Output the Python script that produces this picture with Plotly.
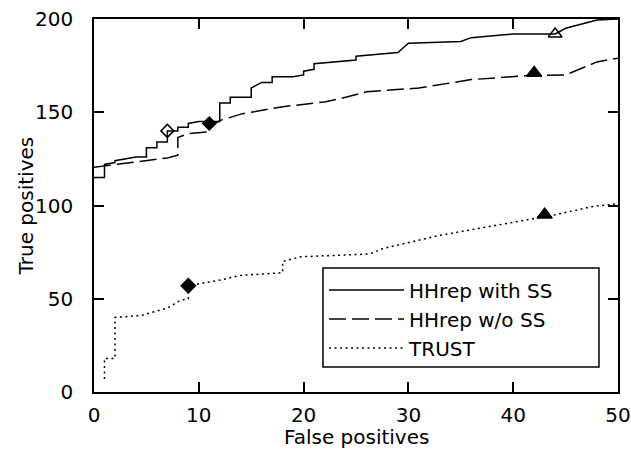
import plotly.graph_objects as go

# HHrep with SS (solid)
ss_x = [0, 1, 1, 2, 2, 4, 5, 5, 6, 6, 7, 7, 8, 8, 9, 9, 10, 12, 12, 13, 13, 15, 15, 16, 17, 17, 19, 20, 20, 21, 21, 25, 25, 29, 30, 35, 36, 40, 44, 45, 48, 50]
ss_y = [115, 115, 122, 123, 124, 126, 126, 131, 131, 134, 134, 140, 140, 142, 142, 144, 145, 145, 155, 155, 158, 158, 163, 166, 166, 169, 169, 170, 172, 173, 176, 178, 180, 182, 187, 188, 190, 192, 192, 195, 199.5, 200]

# HHrep w/o SS (dashed)
noss_x = [0, 2, 5, 7, 8, 8, 9, 11, 11, 12, 14, 18, 22, 24, 26, 31, 36, 41, 45, 48, 50]
noss_y = [120.5, 122, 124, 125.5, 127, 136.5, 138.5, 139.5, 142, 145.5, 149, 153, 155.5, 158, 161, 163, 167.5, 169.5, 170, 177, 179]

# TRUST (dotted)
trust_x = [1, 1, 2, 2, 4.5, 7, 8.2, 9, 9, 12, 14, 18, 18, 19.7, 26.3, 27.6, 33, 37.5, 42.2, 44, 47.6, 50]
trust_y = [7, 18, 18, 40, 41, 45, 49, 50, 57, 60, 62.5, 64, 70, 72.5, 74, 77, 84, 88.5, 93, 95, 99.5, 101]

# highlighted points
mk_x = [7, 11, 44, 42, 9, 43]
mk_y = [140, 144, 192, 171, 57, 95]
mk_sym = ["diamond-open", "diamond", "triangle-up-open", "triangle-up", "diamond", "triangle-up"]
mk_size = [10, 10, 12, 13, 11, 13]

names = ["HHrep with SS", "HHrep w/o SS", "TRUST"]
x_ticks = [0, 10, 20, 30, 40, 50]
y_ticks = [0, 50, 100, 150, 200]
x_title = "False positives"
y_title = "True positives"

FONT = "DejaVu Sans"
FS = 20

fig = go.Figure()
fig.add_trace(go.Scatter(x=ss_x, y=ss_y, mode="lines", name=names[0],
                         line=dict(color="black", width=1.5)))
fig.add_trace(go.Scatter(x=noss_x, y=noss_y, mode="lines", name=names[1],
                         line=dict(color="black", width=1.5, dash="17px,6px")))
fig.add_trace(go.Scatter(x=trust_x, y=trust_y, mode="lines", name=names[2],
                         line=dict(color="black", width=1.5, dash="2px,3.5px")))
for xi, yi, s, sz in zip(mk_x, mk_y, mk_sym, mk_size):
    fig.add_trace(go.Scatter(x=[xi], y=[yi], mode="markers", showlegend=False,
                             marker=dict(symbol=s, size=sz, color="#000000", opacity=1,
                                         line=dict(color="#000000", width=1.5))))

axis_common = dict(
    showgrid=False, zeroline=False, showline=True, linecolor="black", linewidth=1.5,
    mirror="allticks", ticks="inside", ticklen=10, tickwidth=1.5, tickcolor="black",
    tickfont=dict(family=FONT, size=FS, color="black"), automargin=False,
)

fig.update_xaxes(range=[0, 50], tickvals=x_ticks, ticklabelstandoff=4, **axis_common)
fig.update_yaxes(range=[0, 200], tickvals=y_ticks, ticklabelstandoff=15, **axis_common)

# axis titles
fig.add_annotation(text=x_title, xref="paper", yref="paper", x=0.5, y=-0.120,
                   xanchor="center", yanchor="middle", showarrow=False,
                   font=dict(family=FONT, size=FS, color="black"))
fig.add_annotation(text=y_title, xref="paper", yref="paper", x=-0.1298, y=0.5,
                   xanchor="center", yanchor="middle", showarrow=False, textangle=-90,
                   font=dict(family=FONT, size=FS, color="black"))

# legend frame
fig.add_shape(type="rect", xref="paper", yref="paper", x0=0.437, x1=0.9637, y0=0.067, y1=0.3324,
              line=dict(color="black", width=1.5), fillcolor="white", layer="below")

fig.update_layout(
    width=631, height=449,
    margin=dict(l=94, r=13, t=19, b=57),
    paper_bgcolor="white", plot_bgcolor="white",
    font=dict(family=FONT, size=FS, color="black"),
    legend=dict(x=0.439, y=0.326, xanchor="left", yanchor="top",
                borderwidth=0, bgcolor="rgba(0,0,0,0)",
                font=dict(family=FONT, size=FS, color="black"),
                itemwidth=75, tracegroupgap=0),
)

fig.write_html("out.html", config={"displayModeBar": False},
               post_script="document.body.style.margin='0px';")
